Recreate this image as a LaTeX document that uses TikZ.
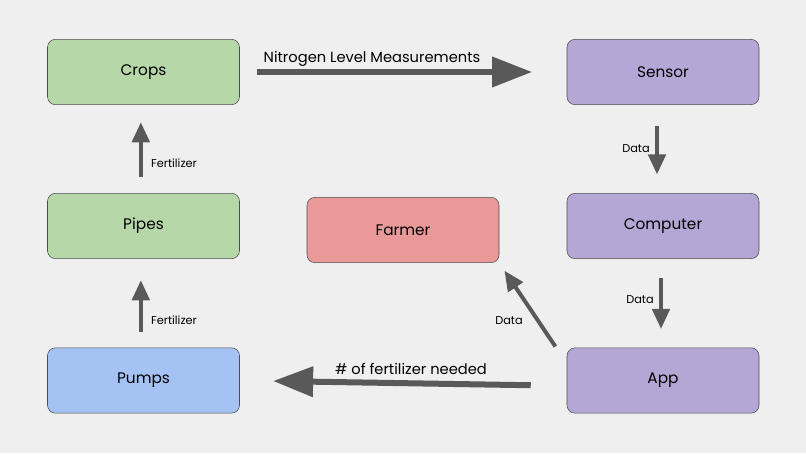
\documentclass[tikz,border=0pt]{standalone}
\usepackage{fontspec}
\setmainfont{Poppins}
\usetikzlibrary{arrows.meta, positioning}
\definecolor{bgcol}{HTML}{EFEFEF}
\definecolor{cropgreen}{HTML}{B6D7A8}
\definecolor{sensorpurple}{HTML}{B4A7D6}
\definecolor{farmerred}{HTML}{EA9999}
\definecolor{pumpblue}{HTML}{A4C2F4}
\definecolor{arrowgray}{HTML}{595959}
\begin{document}
\begin{tikzpicture}[
    x=0.75pt, y=-0.75pt,
    box/.style={rectangle, rounded corners=6pt, draw=black!70, fill=#1, minimum width=144pt, minimum height=49pt, font=\fontsize{11.5}{14}\selectfont},
    bigarrow/.style={-{Triangle[length=30pt, width=22pt]}, line width=4.5pt, draw=arrowgray},
    smallarrow/.style={-{Triangle[length=15pt, width=13pt]}, line width=3pt, draw=arrowgray},
    lbl/.style={font=\fontsize{8.5}{10}\selectfont},
    biglbl/.style={font=\fontsize{11}{13}\selectfont}
]
\fill[bgcol] (0,0) rectangle (806,453);

% boxes
\node[box=cropgreen] (crops) at (143.5,72) {Crops};
\node[box=cropgreen] (pipes) at (143.5,226) {Pipes};
\node[box=pumpblue] (pumps) at (143.5,380.5) {Pumps};
\node[box=farmerred] (farmer) at (403,230) {Farmer};
\node[box=sensorpurple] (sensor) at (663,72) {Sensor};
\node[box=sensorpurple] (computer) at (663,226) {Computer};
\node[box=sensorpurple] (app) at (663,380.5) {App};

% arrows
\draw[bigarrow, shorten <=13pt, shorten >=26pt] (crops.east) -- (sensor.west);
\node[biglbl] (nitro) at (372,59) {Nitrogen Level Measurements};

\draw[smallarrow, shorten <=16pt, shorten >=14pt] ([xshift=-4.5pt]sensor.south) -- ([xshift=-4.5pt]computer.north);
\node[lbl] (d1) at (636,149) {Data};

\draw[smallarrow, shorten <=14pt, shorten >=14pt] ([xshift=-1.5pt]computer.south) -- ([xshift=-1.5pt]app.north);
\node[lbl] (d2) at (640,300) {Data};

\draw[bigarrow, shorten <=27pt, shorten >=25pt] ([yshift=-4pt]app.west) -- (pumps.east);
\node[biglbl] (need) at (411,369) {\# of fertilizer needed};

\draw[smallarrow, shorten <=1pt, shorten >=7pt] ([xshift=-8pt]app.north west) -- (farmer.south east);
\node[lbl] (d3) at (509,321) {Data};

\draw[smallarrow, shorten <=12pt, shorten >=16pt] ([xshift=-2pt]pumps.north) -- ([xshift=-2pt]pipes.south);
\node[lbl] (f1) at (174,320) {Fertilizer};

\draw[smallarrow, shorten <=12pt, shorten >=13pt] ([xshift=-2pt]pipes.north) -- ([xshift=-2pt]crops.south);
\node[lbl] (f2) at (174,163) {Fertilizer};
\end{tikzpicture}
\end{document}
